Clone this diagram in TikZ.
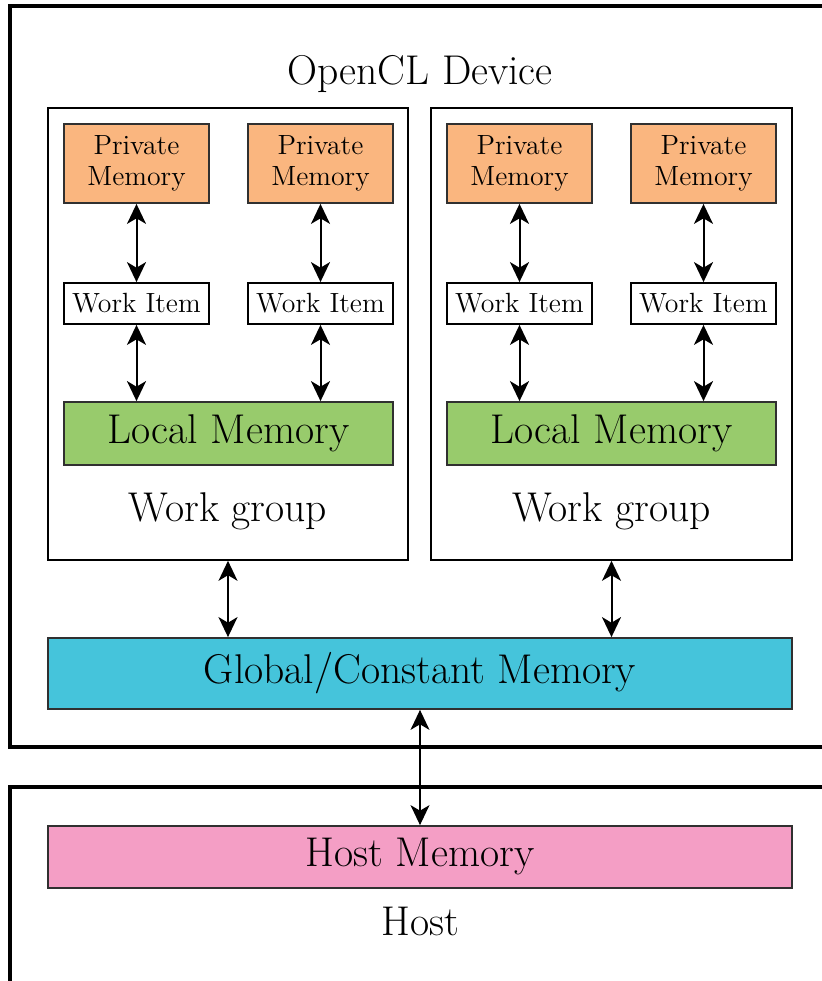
\documentclass[tikz,border=0pt]{standalone}
\usetikzlibrary{arrows.meta}
\definecolor{privc}{HTML}{FAB67F}
\definecolor{localc}{HTML}{98CB6C}
\definecolor{globc}{HTML}{45C4DB}
\definecolor{hostc}{HTML}{F49EC5}
\definecolor{edgec}{HTML}{303030}
\begin{document}
\begin{tikzpicture}[x=0.5pt,y=-0.5pt,
  bigfont/.style={font=\fontsize{20.8}{25}\selectfont},
  smallfont/.style={font=\fontsize{13.9}{15.2}\selectfont},
  membox/.style={draw=edgec,line width=0.9pt,inner sep=0pt,align=center},
  privbox/.style={membox,fill=privc,smallfont,minimum width=72.5pt,minimum height=39.5pt},
  itembox/.style={membox,draw=black,fill=white,smallfont,minimum width=72.5pt,minimum height=20.5pt},
  localbox/.style={membox,fill=localc,bigfont,minimum width=164.5pt,minimum height=31.5pt},
  groupbox/.style={draw=black,line width=0.8pt,inner sep=0pt,minimum width=180pt,minimum height=226pt},
  outerbox/.style={draw=black,line width=1.7pt},
  tip/.style={Stealth[length=10pt,width=9.5pt,inset=2.8pt]},
  link/.style={line width=1pt,{Stealth[length=10pt,width=9.5pt,inset=2.8pt]}-{Stealth[length=10pt,width=9.5pt,inset=2.8pt]}},
  thinlink/.style={link,line width=0.65pt}]
\useasboundingbox (0,0) rectangle (821,981);
% device and host frames
\draw[outerbox] (840,747) -- (10,747) -- (10,6) -- (840,6);
\draw[outerbox] (10,990) -- (10,787) -- (840,787);
\node[bigfont] (devlabel) at (420,74) {OpenCL Device};
% work groups
\node[groupbox] (wg1) at (228,334) {};
\node[groupbox,minimum width=180.5pt] (wg2) at (611.5,334) {};
\node[bigfont] (wg1label) at (228,511) {Work group};
\node[bigfont] (wg2label) at (611.5,511) {Work group};
% private memories
\node[privbox] (p1) at (136.5,163.5) {Private\\Memory};
\node[privbox] (p2) at (320.5,163.5) {Private\\Memory};
\node[privbox] (p3) at (519.5,163.5) {Private\\Memory};
\node[privbox] (p4) at (703.5,163.5) {Private\\Memory};
% work items
\node[itembox] (w1) at (136.5,303.5) {Work Item};
\node[itembox] (w2) at (320.5,303.5) {Work Item};
\node[itembox] (w3) at (519.5,303.5) {Work Item};
\node[itembox] (w4) at (703.5,303.5) {Work Item};
% local memories
\node[localbox] (l1) at (228.5,433.5) {Local Memory};
\node[localbox] (l2) at (611.5,433.5) {Local Memory};
% global and host memory
\node[membox,fill=globc,bigfont,minimum width=372pt,minimum height=35.5pt] (glob) at (420,673.5) {Global/Constant Memory};
\node[membox,fill=hostc,bigfont,minimum width=372pt,minimum height=31pt] (hmem) at (420,857) {Host Memory};
\node[bigfont] (hostlabel) at (420,921) {Host};
% connections
\foreach \i in {1,2,3,4}{
  \draw[link] (p\i.south) -- (w\i.north);
  \draw[link] (w\i.south) -- (w\i.south |- l1.north);
}
\draw[link] (wg1.south) -- (wg1.south |- glob.north);
\draw[link] (wg2.south) -- (wg2.south |- glob.north);
\draw[thinlink] (glob.south) -- (hmem.north);
\end{tikzpicture}
\end{document}
